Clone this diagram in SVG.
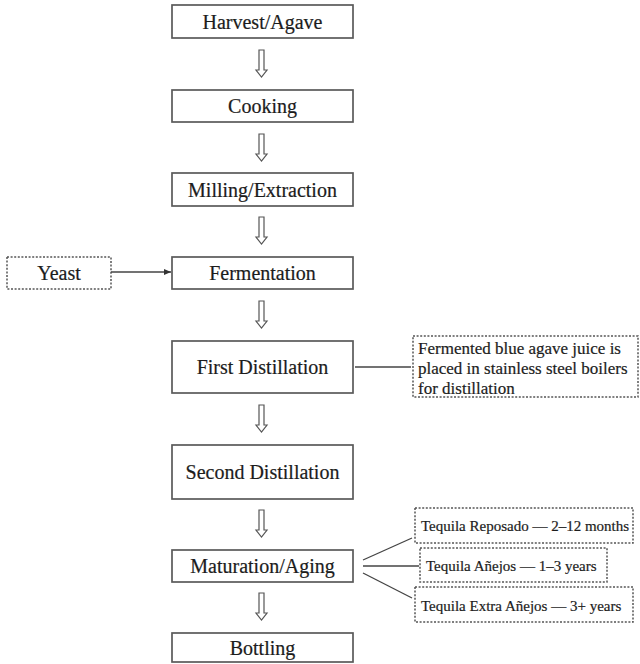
<svg xmlns="http://www.w3.org/2000/svg" width="640" height="664" viewBox="0 0 640 664">
  <style>
    text { font-family: "Liberation Serif", Tinos, "Times New Roman", Times, serif; fill: #1c1c1c; stroke: #1c1c1c; stroke-width: 0.2; }
    .box { fill: #fff; stroke: #5a5a5a; stroke-width: 1.7; }
    .side { fill: #fff; stroke: #555; stroke-width: 1.5; stroke-dasharray: 2 1.6; }
    .lbl { font-size: 20px; text-anchor: middle; dominant-baseline: central; }
    .note { font-size: 17px; }
    .tq { font-size: 15px; dominant-baseline: central; }
    .down { fill: #fff; stroke: #555; stroke-width: 1.2; stroke-linejoin: miter; }
    .link { fill: none; stroke: #444; stroke-width: 1.3; }
  </style>
  <defs>
    <marker id="tri" markerWidth="8" markerHeight="8" refX="7" refY="4" orient="auto" markerUnits="userSpaceOnUse">
      <path d="M0,1 L7,4 L0,7 Z" fill="#333"/>
    </marker>
    <path id="hollowArrow" d="M-2.5,0 L2.5,0 L2.5,20 L5.5,20 L0,27 L-5.5,20 L-2.5,20 Z"/>
  </defs>

  <rect width="640" height="664" fill="#fff"/>

  <!-- process steps -->
  <g id="harvest"><rect class="box" x="172" y="5" width="181" height="33"/><text class="lbl" x="262.5" y="21.5">Harvest/Agave</text></g>
  <g id="cooking"><rect class="box" x="172" y="90" width="181" height="32"/><text class="lbl" x="262.5" y="106">Cooking</text></g>
  <g id="milling"><rect class="box" x="172" y="173" width="181" height="33"/><text class="lbl" x="262.5" y="189.5">Milling/Extraction</text></g>
  <g id="fermentation"><rect class="box" x="172" y="257" width="181" height="32"/><text class="lbl" x="262.5" y="273">Fermentation</text></g>
  <g id="first-distillation"><rect class="box" x="172" y="341" width="181" height="52"/><text class="lbl" x="262.5" y="367">First Distillation</text></g>
  <g id="second-distillation"><rect class="box" x="172" y="445" width="181" height="54"/><text class="lbl" x="262.5" y="472">Second Distillation</text></g>
  <g id="maturation"><rect class="box" x="172" y="550" width="181" height="32"/><text class="lbl" x="262.5" y="566">Maturation/Aging</text></g>
  <g id="bottling"><rect class="box" x="172" y="633" width="181" height="29"/><text class="lbl" x="262.5" y="647.5">Bottling</text></g>

  <!-- side inputs and notes -->
  <g id="yeast"><rect class="side" x="7" y="257" width="104" height="32"/><text class="lbl" x="59" y="273">Yeast</text></g>
  <g id="distillation-note">
    <rect class="side" x="413" y="336" width="225" height="61"/>
    <text class="note" x="418" y="353.5">Fermented blue agave juice is</text>
    <text class="note" x="418" y="374">placed in stainless steel boilers</text>
    <text class="note" x="418" y="393.5">for distillation</text>
  </g>
  <g id="reposado"><rect class="side" x="415" y="508" width="218" height="35"/><text class="tq" x="421" y="525.5">Tequila Reposado  — 2–12 months</text></g>
  <g id="anejos"><rect class="side" x="420" y="548" width="187" height="34"/><text class="tq" x="426" y="566">Tequila Añejos  — 1–3 years</text></g>
  <g id="extra-anejos"><rect class="side" x="415" y="587" width="218" height="35"/><text class="tq" x="421" y="605.5">Tequila Extra Añejos  — 3+ years</text></g>

  <!-- connectors -->
  <g id="connectors">
    <use href="#hollowArrow" class="down" x="261.5" y="50"/>
    <use href="#hollowArrow" class="down" x="261.5" y="134"/>
    <use href="#hollowArrow" class="down" x="261.5" y="217"/>
    <use href="#hollowArrow" class="down" x="261.5" y="301"/>
    <use href="#hollowArrow" class="down" x="261.5" y="405"/>
    <use href="#hollowArrow" class="down" x="261.5" y="510"/>
    <use href="#hollowArrow" class="down" x="261.5" y="593"/>
    <line class="link" x1="111" y1="272" x2="171" y2="272" marker-end="url(#tri)"/>
    <line class="link" x1="355" y1="367" x2="411" y2="367"/>
    <line class="link" x1="363" y1="560" x2="412" y2="538"/>
    <line class="link" x1="363" y1="566" x2="419" y2="566"/>
    <line class="link" x1="363" y1="573" x2="412" y2="598"/>
  </g>
</svg>
